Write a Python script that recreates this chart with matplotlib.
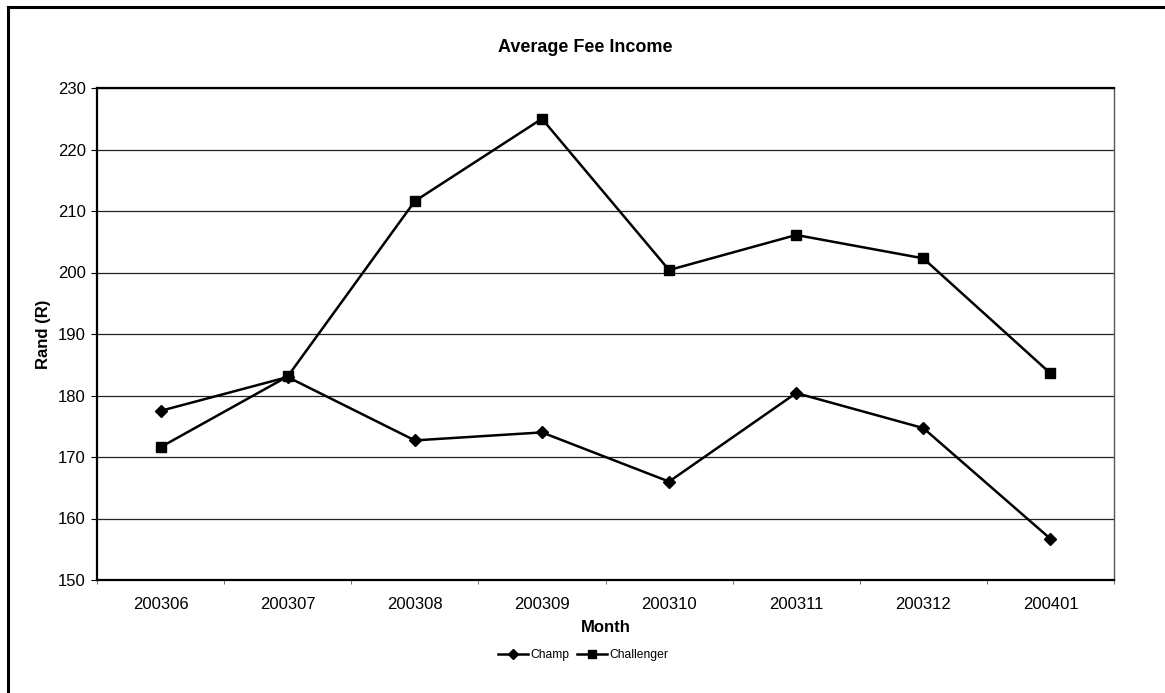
import numpy as np
import matplotlib
matplotlib.use("Agg")
import matplotlib.pyplot as plt
from matplotlib.lines import Line2D

plt.rcParams['font.family'] = ['Liberation Sans', 'DejaVu Sans']

# ── Data ──────────────────────────────────────────────
months     = ["200306", "200307", "200308", "200309",
              "200310", "200311", "200312", "200401"]
champ      = [177.5, 183.0, 172.7, 174.0, 166.0, 180.4, 174.7, 156.7]
challenger = [171.6, 183.1, 211.6, 225.0, 200.4, 206.1, 202.3, 183.6]

# ── Figure ────────────────────────────────────────────
fig = plt.figure(figsize=(11.65, 6.93), dpi=100)
ax = fig.add_axes([97 / 1165, 113 / 693, 1017 / 1165, 492 / 693])

# outer chart frame (left + top edges)
fig.add_artist(Line2D([8 / 1165, 8 / 1165], [0, 686 / 693],
                      transform=fig.transFigure, color="black", lw=2.2))
fig.add_artist(Line2D([8 / 1165, 1], [686 / 693, 686 / 693],
                      transform=fig.transFigure, color="black", lw=2.2))

x = np.arange(len(months))
ax.plot(x, champ, color="black", lw=1.8, marker="D", markersize=6,
        label="Champ", zorder=3)
ax.plot(x, challenger, color="black", lw=1.8, marker="s", markersize=7,
        label="Challenger", zorder=3)

ax.set_xlim(-0.5, len(months) - 0.5)
ax.set_ylim(150, 230)
ax.set_yticks(np.arange(150, 231, 10))
ax.set_xticks(x)
ax.set_xticklabels(months)
ax.set_xticks(np.arange(-0.5, len(months), 1), minor=True)
ax.tick_params(axis="x", which="major", length=0, pad=12, labelsize=12)
ax.tick_params(axis="x", which="minor", length=3, color="#555555")
ax.tick_params(axis="y", length=4, labelsize=12, pad=4)

ax.yaxis.grid(True, color="#222222", lw=0.9)
ax.set_axisbelow(True)

for side in ["left", "bottom", "top"]:
    ax.spines[side].set_color("black")
    ax.spines[side].set_linewidth(1.6)
ax.spines["right"].set_color("#555555")
ax.spines["right"].set_linewidth(1.0)

fig.text(0.502, 645 / 693, "Average Fee Income", ha="center", va="center",
         fontsize=13, fontweight="bold")
ax.set_xlabel("Month", fontsize=12, fontweight="bold", labelpad=6)
ax.set_ylabel("Rand (R)", fontsize=12, fontweight="bold", labelpad=5)

ax.legend(loc="center", bbox_to_anchor=(583 / 1165, 38 / 693),
          bbox_transform=fig.transFigure, ncol=2, frameon=False,
          fontsize=8.7, handlelength=2.5, handletextpad=0.2,
          columnspacing=0.6, markerscale=0.8)

fig.savefig("out.png", dpi=100)
